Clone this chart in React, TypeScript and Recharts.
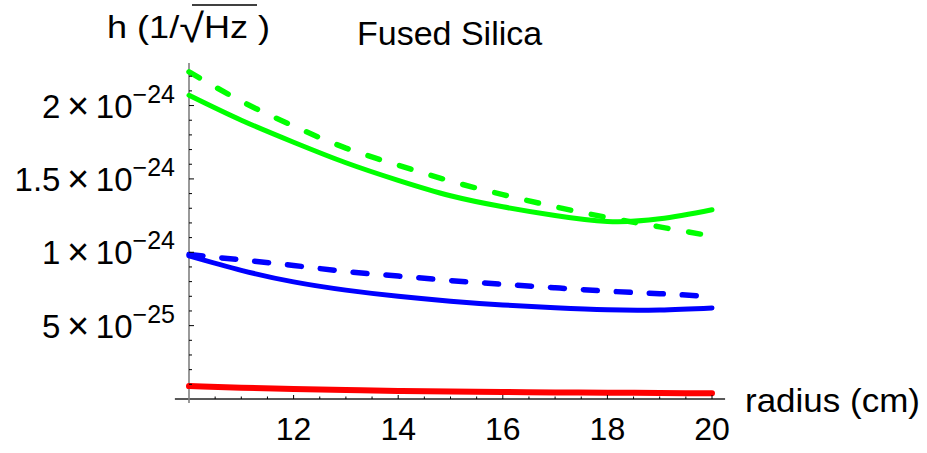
import React from "react";
import { LineChart, Line, XAxis, YAxis, ReferenceLine, Label } from "recharts";

const radius = [10, 11, 12, 13, 14, 15, 16, 17, 18, 19, 20];
const greenSolid = [2.07e-24, 1.9e-24, 1.75e-24, 1.61e-24, 1.49e-24, 1.385e-24, 1.31e-24, 1.25e-24, 1.21e-24, 1.228e-24, 1.29e-24];
const greenDashed = [2.23e-24, 2.03e-24, 1.86e-24, 1.71e-24, 1.594e-24, 1.485e-24, 1.393e-24, 1.31e-24, 1.237e-24, 1.173e-24, 1.11e-24];
const blueSolid = [0.975e-24, 0.877e-24, 0.798e-24, 0.742e-24, 0.7e-24, 0.667e-24, 0.641e-24, 0.622e-24, 0.608e-24, 0.607e-24, 0.621e-24];
const blueDashed = [0.985e-24, 0.948e-24, 0.91e-24, 0.869e-24, 0.838e-24, 0.807e-24, 0.782e-24, 0.758e-24, 0.735e-24, 0.718e-24, 0.698e-24];
const redSolid = [0.088e-24, 0.077e-24, 0.068e-24, 0.061e-24, 0.055e-24, 0.051e-24, 0.048e-24, 0.045e-24, 0.043e-24, 0.041e-24, 0.039e-24];

const xTicks = [10.5, 11, 11.5, 12, 12.5, 13, 13.5, 14, 14.5, 15, 15.5, 16, 16.5, 17, 17.5, 18, 18.5, 19, 19.5, 20];
const xLabelTicks = [12, 14, 16, 18, 20];
const xLabels = ["12", "14", "16", "18", "20"];

const yTicks = [
  1e-25, 2e-25, 3e-25, 4e-25, 5e-25, 6e-25, 7e-25, 8e-25, 9e-25, 1e-24, 1.1e-24,
  1.2e-24, 1.3e-24, 1.4e-24, 1.5e-24, 1.6e-24, 1.7e-24, 1.8e-24, 1.9e-24, 2e-24, 2.1e-24, 2.2e-24,
];
const yLabelTicks = [5e-25, 1e-24, 1.5e-24, 2e-24];
const yMantissas = ["5", "1", "1.5", "2"];
const yExponents = ["\u221225", "\u221224", "\u221224", "\u221224"];

const data = radius.map((r, i) => ({
  r,
  greenSolid: greenSolid[i],
  greenDashed: greenDashed[i],
  blueSolid: blueSolid[i],
  blueDashed: blueDashed[i],
  red: redSolid[i],
}));

const font = "'Liberation Sans', Arial, Helvetica, sans-serif";

function YTick(props: any) {
  const { x, y, payload } = props;
  const i = yLabelTicks.findIndex((m) => Math.abs(m - payload.value) < 1e-30);
  const major = i >= 0;
  return (
    <g>
      <line x1={x} x2={x + (major ? 5 : 3)} y1={y} y2={y} stroke="#000" strokeWidth={1} />
      {major && (
        <text x={x - 14} y={y + 12} textAnchor="end" fontSize={33} fontFamily={font} fill="#000">
          {yMantissas[i] + "\u2009"}
          <tspan fontSize={38} dy={1}>{"\u00d7"}</tspan>
          <tspan dy={-1}>{"\u200910"}</tspan>
          <tspan dy={-15} fontSize={25}>{yExponents[i]}</tspan>
        </text>
      )}
    </g>
  );
}

function XTick(props: any) {
  const { x, y, payload } = props;
  const i = xLabelTicks.indexOf(payload.value);
  const major = i >= 0;
  return (
    <g>
      <line x1={x} x2={x} y1={y} y2={y - (major ? 4 : 2.5)} stroke="#000" strokeWidth={1} />
      {major && (
        <text x={x} y={y + 41} textAnchor="middle" fontSize={32} fontFamily={font} fill="#000">
          {xLabels[i]}
        </text>
      )}
    </g>
  );
}

export default function App() {
  return (
    <div style={{ position: "relative", width: 927, height: 453, background: "#fff", fontFamily: font }}>
      <style>{"body{margin:0}"}</style>
      <LineChart width={927} height={453} data={data} margin={{ top: 63, right: 215, bottom: 0, left: 0 }}>
        <XAxis
          dataKey="r"
          type="number"
          domain={[10, 20]}
          ticks={xTicks}
          interval={0}
          axisLine={false}
          tickLine={false}
          tickSize={0}
          tickMargin={0}
          tick={<XTick />}
          height={54}
        >
          <Label
            content={(p: any) => (
              <text x={p.viewBox.x + p.viewBox.width + 33} y={p.viewBox.y + 13} fontSize={34} textLength={175} lengthAdjust="spacingAndGlyphs" fontFamily={font} fill="#000">
                radius (cm)
              </text>
            )}
          />
        </XAxis>
        <YAxis
          type="number"
          domain={[0, 2.29e-24]}
          ticks={yTicks}
          interval={0}
          axisLine={false}
          tickLine={false}
          tickSize={0}
          tickMargin={0}
          tick={<YTick />}
          width={189}
          allowDataOverflow
        />
        <ReferenceLine
          segment={[{ x: 9.73, y: 0 }, { x: 20.25, y: 0 }]}
          ifOverflow="visible"
          stroke="#222"
          strokeWidth={1.3}
        />
        <ReferenceLine
          segment={[{ x: 10, y: -0.027e-24 }, { x: 10, y: 2.29e-24 }]}
          ifOverflow="visible"
          stroke="#808080"
          strokeWidth={1.6}
        />
        <Line type="natural" dataKey="red" stroke="#ff0000" strokeWidth={6} strokeLinecap="round" dot={false} activeDot={false} isAnimationActive={false} />
        <Line type="natural" dataKey="blueSolid" stroke="#0000ff" strokeWidth={5} strokeLinecap="round" dot={false} activeDot={false} isAnimationActive={false} />
        <Line type="natural" dataKey="blueDashed" stroke="#0000ff" strokeWidth={5.5} strokeLinecap="round" strokeDasharray="14 19" dot={false} activeDot={false} isAnimationActive={false} />
        <Line type="natural" dataKey="greenSolid" stroke="#00ff00" strokeWidth={5} strokeLinecap="round" dot={false} activeDot={false} isAnimationActive={false} />
        <Line type="natural" dataKey="greenDashed" stroke="#00ff00" strokeWidth={5.5} strokeLinecap="round" strokeDasharray="12 21" dot={false} activeDot={false} isAnimationActive={false} />
      </LineChart>
      <svg width={927} height={453} style={{ position: "absolute", left: 0, top: 0, pointerEvents: "none" }}>
        <text x={107} y={38} fontSize={32} textLength={163} lengthAdjust="spacingAndGlyphs" fontFamily={font} fill="#000">
          {"h (1/"}
          <tspan fontSize={40} dy={4}>{"\u221a"}</tspan>
          <tspan dy={-4}>{"Hz )"}</tspan>
        </text>
        <line x1={192} x2={257} y1={5} y2={5} stroke="#000" strokeWidth={1.5} />
        <text x={357} y={45} fontSize={34} fontFamily={font} fill="#000">
          Fused Silica
        </text>
      </svg>
    </div>
  );
}
